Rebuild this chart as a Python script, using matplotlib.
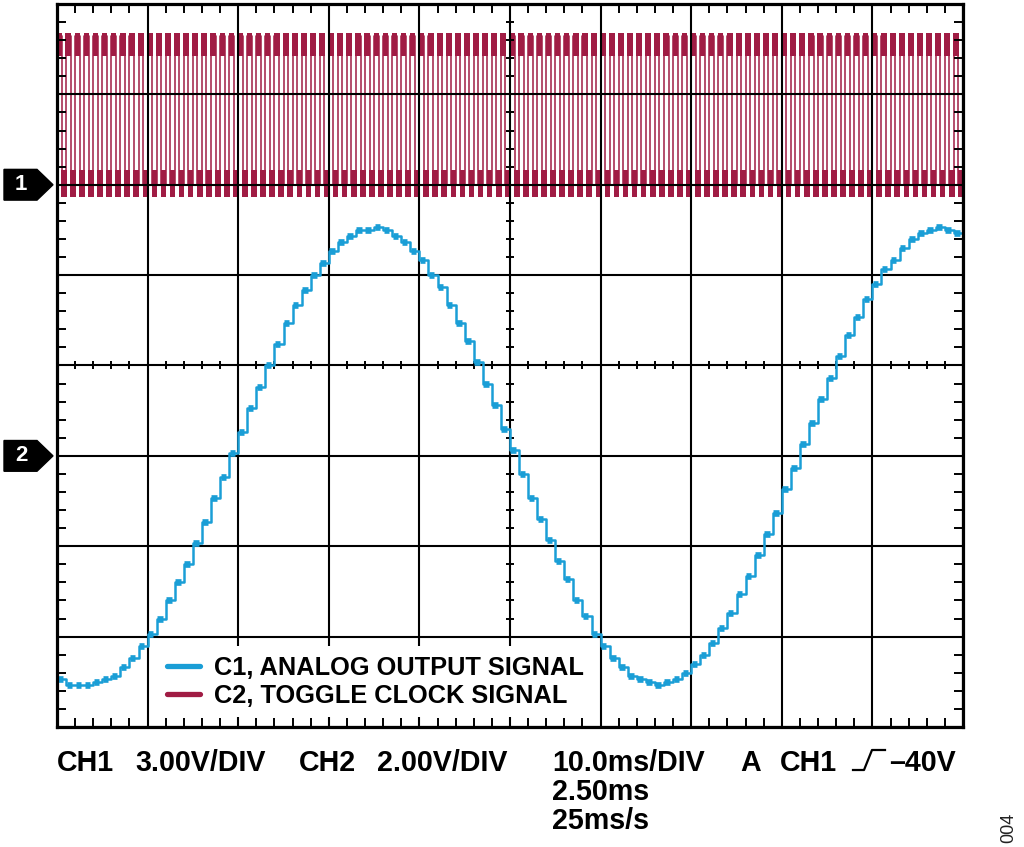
import numpy as np
import matplotlib
matplotlib.use('Agg')
import matplotlib.pyplot as plt
import matplotlib.transforms as mtransforms
from matplotlib.patches import Polygon, Rectangle
from matplotlib.lines import Line2D

plt.rcParams['font.family'] = ['Liberation Sans', 'DejaVu Sans']

# scope screen settings
ms_per_div = 10.0
n_div_x = 10
n_div_y = 8
ch1_volts_per_div = 3.0
ch2_volts_per_div = 2.0
ch1_ground_div = 3.0   # marker "2"
ch2_ground_div = 6.0   # marker "1"

# C1 analog output: one DAC level per 1 ms update (volts)
c1_update_ms = 1.0
c1_levels_v = [
    -7.4, -7.6, -7.6, -7.6, -7.5, -7.4, -7.3, -7.0, -6.7, -6.3,
    -5.9, -5.4, -4.8, -4.2, -3.6, -2.9, -2.2, -1.4, -0.7, 0.1,
    0.8, 1.6, 2.3, 3.0, 3.7, 4.4, 5.0, 5.5, 6.0, 6.4,
    6.8, 7.1, 7.3, 7.5, 7.5, 7.6, 7.5, 7.3, 7.1, 6.8,
    6.5, 6.0, 5.6, 5.0, 4.4, 3.8, 3.1, 2.4, 1.7, 0.9,
    0.2, -0.6, -1.4, -2.1, -2.8, -3.5, -4.1, -4.8, -5.3, -5.9,
    -6.3, -6.7, -7.0, -7.3, -7.4, -7.5, -7.6, -7.5, -7.4, -7.2,
    -6.9, -6.6, -6.2, -5.7, -5.2, -4.6, -4.0, -3.3, -2.6, -1.9,
    -1.1, -0.4, 0.4, 1.1, 1.9, 2.6, 3.3, 4.0, 4.6, 5.2,
    5.7, 6.2, 6.5, 6.9, 7.2, 7.4, 7.5, 7.6, 7.5, 7.4,
]

# C2 toggle clock (volts)
clock_period_ms = 1.0
clock_high_v = 3.3
clock_low_v = 0.0
clock_high_band_v = (2.85, 3.35)
clock_low_band_v = (-0.28, 0.32)

legend_labels = ['C1, ANALOG OUTPUT SIGNAL', 'C2, TOGGLE CLOCK SIGNAL']

blue = '#1a9ed6'
red = '#a01c44'

W, H = 1024, 847
fig = plt.figure(figsize=(W / 100, H / 100), dpi=100)
ax = fig.add_axes([57 / W, 1 - 727 / H, 906 / W, 723 / H])
t_end = ms_per_div * n_div_x
ax.set_xlim(0, t_end)
ax.set_ylim(0, n_div_y)

# graticule
ax.set_xticks(np.arange(0, t_end + 0.1, ms_per_div))
ax.set_yticks(np.arange(0, n_div_y + 0.1, 1))
ax.set_xticks(np.arange(0, t_end + 0.1, ms_per_div / 5), minor=True)
ax.set_yticks(np.arange(0, n_div_y + 0.01, 0.2), minor=True)
ax.tick_params(which='major', length=0, labelbottom=False, labelleft=False)
ax.tick_params(which='minor', direction='in', length=6.5, width=1.4,
               top=True, right=True, bottom=True, left=True, color='black')
ax.grid(which='major', color='black', lw=1.5)
ax.set_axisbelow(False)
for sp in ax.spines.values():
    sp.set_linewidth(2.3)
    sp.set_zorder(4)

# center-line ticks
xc = np.arange(0, t_end + 0.1, ms_per_div / 5)
yc = np.arange(0, n_div_y + 0.01, 0.2)
ax.plot(xc, np.full(len(xc), n_div_y / 2), ls='none', marker='|', ms=5.5, mew=1.4,
        color='black', zorder=2.6)
ax.plot(np.full(len(yc), t_end / 2), yc, ls='none', marker='_', ms=5.5, mew=1.4,
        color='black', zorder=2.6)

# C2 clock trace
def ch2(v):
    return ch2_ground_div + np.asarray(v) / ch2_volts_per_div

half = clock_period_ms / 2
edges = np.arange(0, t_end + half / 2, half)
states = np.where(np.arange(len(edges)) % 2 == 0, clock_high_v, clock_low_v)
ax.step(edges, ch2(states), where='post', color=red, lw=1.1, zorder=1.5)
hi_start = edges[::2]
lo_start = edges[1::2]
hb = ch2(clock_high_band_v)
lb = ch2(clock_low_band_v)
ax.bar(hi_start + half / 2, hb[1] - hb[0], bottom=hb[0], width=half * 1.25,
       color=red, lw=0, zorder=1.5)
ax.bar(lo_start + half / 2, lb[1] - lb[0], bottom=lb[0], width=half * 1.25,
       color=red, lw=0, zorder=1.5)

# C1 analog trace
t1 = np.arange(len(c1_levels_v)) * c1_update_ms
y1 = ch1_ground_div + np.array(c1_levels_v) / ch1_volts_per_div
ax.step(np.append(t1, t_end), np.append(y1, y1[-1]), where='post',
        color=blue, lw=1.8, zorder=3)
ax.hlines(y1, t1 + 0.05, t1 + 0.65, color=blue, lw=4.8, zorder=3)

# white panel behind the legend (hides the graticule there)
ax.add_patch(Rectangle((150 / W, 1 - 717 / H), 446 / W, 71 / H,
                       transform=fig.transFigure, facecolor='white',
                       edgecolor='none', zorder=2.8))

# legend
handles = [Line2D([0], [0], color=blue, lw=3.8, solid_capstyle='round'),
           Line2D([0], [0], color=red, lw=3.8, solid_capstyle='round')]
leg = ax.legend(handles, legend_labels,
                loc='center left', bbox_to_anchor=(167 / W, 1 - 682 / H),
                bbox_transform=fig.transFigure, frameon=False,
                prop={'size': 18.3, 'weight': 'bold'}, handlelength=1.3,
                handletextpad=0.55, labelspacing=0.18, borderpad=0, borderaxespad=0)
leg.set_zorder(5)

# channel ground markers
trans = mtransforms.blended_transform_factory(fig.transFigure, ax.transData)
for lab, yd in [('1', ch2_ground_div), ('2', ch1_ground_div)]:
    hh = 0.17
    pts = [(4 / W, yd - hh), (37 / W, yd - hh), (53 / W, yd),
           (37 / W, yd + hh), (4 / W, yd + hh)]
    fig.add_artist(Polygon(pts, closed=True, transform=trans, color='black'))
    fig.text(21 / W, yd, lab, transform=trans, ha='center', va='center',
             color='white', fontsize=16, weight='bold')

# readout text
def readout(px, py, s):
    fig.text(px / W, 1 - py / H, s, fontsize=20.6, weight='bold',
             ha='left', va='baseline')

readout(57, 771, 'CH1')
readout(135, 771, '3.00V/DIV')
readout(299, 771, 'CH2')
readout(377, 771, '2.00V/DIV')
readout(552, 771, '10.0ms/DIV')
readout(740, 771, 'A')
readout(780, 771, 'CH1')
readout(889, 771, '\u201340V')
readout(552, 800, '2.50ms')
readout(552, 829, '25ms/s')

# trigger slope symbol
sx = np.array([853, 864, 872, 885]) / W
sy = 1 - np.array([770, 770, 750, 750]) / H
fig.add_artist(Line2D(sx, sy, color='black', lw=1.6, transform=fig.transFigure))

fig.text(1009 / W, 1 - 828 / H, '004', rotation=90, fontsize=13,
         ha='center', va='center', color='#222222')

fig.savefig('out.png', dpi=100)
